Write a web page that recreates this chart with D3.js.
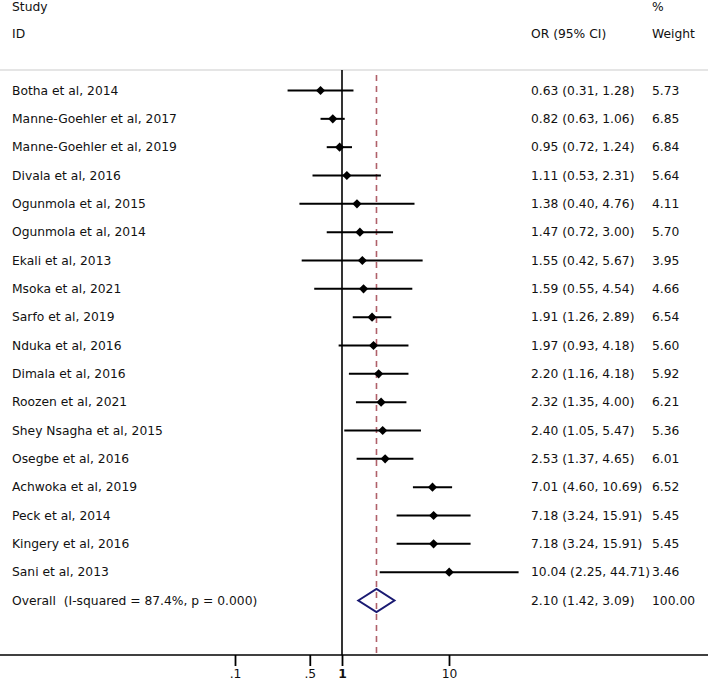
<!DOCTYPE html>
<html>
<head>
<meta charset="utf-8">
<script src="https://cdn.jsdelivr.net/npm/d3@7/dist/d3.min.js"></script>
<style>
  html, body { margin: 0; padding: 0; background: #fff; }
  svg { display: block; }
  text { font-family: "DejaVu Sans", sans-serif; fill: #111; white-space: pre; }
</style>
</head>
<body>
<script>
const studies = [
  "Botha et al, 2014", "Manne-Goehler et al, 2017", "Manne-Goehler et al, 2019",
  "Divala et al, 2016", "Ogunmola et al, 2015", "Ogunmola et al, 2014",
  "Ekali et al, 2013", "Msoka et al, 2021", "Sarfo et al, 2019",
  "Nduka et al, 2016", "Dimala et al, 2016", "Roozen et al, 2021",
  "Shey Nsagha et al, 2015", "Osegbe et al, 2016", "Achwoka et al, 2019",
  "Peck et al, 2014", "Kingery et al, 2016", "Sani et al, 2013"
];
const orValues = [0.63, 0.82, 0.95, 1.11, 1.38, 1.47, 1.55, 1.59, 1.91, 1.97, 2.20, 2.32, 2.40, 2.53, 7.01, 7.18, 7.18, 10.04];
const ciLower  = [0.31, 0.63, 0.72, 0.53, 0.40, 0.72, 0.42, 0.55, 1.26, 0.93, 1.16, 1.35, 1.05, 1.37, 4.60, 3.24, 3.24, 2.25];
const ciUpper  = [1.28, 1.06, 1.24, 2.31, 4.76, 3.00, 5.67, 4.54, 2.89, 4.18, 4.18, 4.00, 5.47, 4.65, 10.69, 15.91, 15.91, 44.71];
const weights  = ["5.73", "6.85", "6.84", "5.64", "4.11", "5.70", "3.95", "4.66", "6.54", "5.60", "5.92", "6.21", "5.36", "6.01", "6.52", "5.45", "5.45", "3.46"];
const overallLabel = "Overall  (I-squared = 87.4%, p = 0.000)";
const overallOR = 2.10, overallLo = 1.42, overallHi = 3.09;
const overallWeight = "100.00";
const tickValues = [0.1, 0.5, 1, 10];
const tickLabels = [".1", ".5", "1", "10"];

const W = 708, H = 681;
const svg = d3.select("body").append("svg").attr("width", W).attr("height", H);

const x = d3.scaleLog().domain([0.1, 10]).range([235, 449]);
const y = d3.scaleLinear().domain([0, 18]).range([90.5, 600.5]);

const fmt = d3.format(".2f");
const fs = "12.3px";
const xLabel = 12, xCI = 531, xW = 652;

// headers
svg.append("text").attr("x", xLabel).attr("y", 7).attr("dy", "0.35em").style("font-size", fs).text("Study");
svg.append("text").attr("x", xLabel).attr("y", 34).attr("dy", "0.35em").style("font-size", fs).text("ID");
svg.append("text").attr("x", xCI).attr("y", 34).attr("dy", "0.35em").style("font-size", fs).text("OR (95% CI)");
svg.append("text").attr("x", xW).attr("y", 7).attr("dy", "0.35em").style("font-size", fs).text("%");
svg.append("text").attr("x", xW).attr("y", 34).attr("dy", "0.35em").style("font-size", fs).text("Weight");

// top rule
svg.append("line").attr("x1", 0).attr("x2", W).attr("y1", 70).attr("y2", 70)
  .attr("stroke", "#cccccc").attr("stroke-width", 1.2);

const axisY = 655;

// null line
svg.append("line").attr("x1", x(1)).attr("x2", x(1)).attr("y1", 70).attr("y2", axisY)
  .attr("stroke", "#000").attr("stroke-width", 1.6);

// overall dashed line
svg.append("line").attr("x1", x(overallOR)).attr("x2", x(overallOR)).attr("y1", 75).attr("y2", axisY)
  .attr("stroke", "#b0606a").attr("stroke-width", 1.6).attr("stroke-dasharray", "6,5");

// rows
const rows = studies.map((s, i) => ({ s, or: orValues[i], lo: ciLower[i], hi: ciUpper[i], w: weights[i], i }));

const g = svg.append("g");
rows.forEach(d => {
  const yy = y(d.i);
  g.append("line").attr("x1", x(d.lo)).attr("x2", x(d.hi)).attr("y1", yy).attr("y2", yy)
    .attr("stroke", "#000").attr("stroke-width", 2);
  const cx = x(d.or), r = 4.6;
  g.append("path").attr("d", `M${cx},${yy - r}L${cx + r},${yy}L${cx},${yy + r}L${cx - r},${yy}Z`)
    .attr("fill", "#000");
  g.append("text").attr("x", xLabel).attr("y", yy).attr("dy", "0.35em").style("font-size", fs).text(d.s);
  g.append("text").attr("x", xCI).attr("y", yy).attr("dy", "0.35em").style("font-size", fs)
    .text(`${fmt(d.or)} (${fmt(d.lo)}, ${fmt(d.hi)})`);
  g.append("text").attr("x", xW).attr("y", yy).attr("dy", "0.35em").style("font-size", fs).text(d.w);
});

// overall
const yo = y(18);
svg.append("path")
  .attr("d", `M${x(overallLo)},${yo}L${x(overallOR)},${yo - 11.5}L${x(overallHi)},${yo}L${x(overallOR)},${yo + 11.5}Z`)
  .attr("fill", "none").attr("stroke", "#1a1a72").attr("stroke-width", 2);
svg.append("text").attr("x", xLabel).attr("y", yo).attr("dy", "0.35em").style("font-size", fs)
  .attr("xml:space", "preserve").text(overallLabel);
svg.append("text").attr("x", xCI).attr("y", yo).attr("dy", "0.35em").style("font-size", fs)
  .text(`${fmt(overallOR)} (${fmt(overallLo)}, ${fmt(overallHi)})`);
svg.append("text").attr("x", xW).attr("y", yo).attr("dy", "0.35em").style("font-size", fs).text(overallWeight);

// axis
svg.append("line").attr("x1", 0).attr("x2", W).attr("y1", axisY).attr("y2", axisY)
  .attr("stroke", "#000").attr("stroke-width", 1.4);
const axis = d3.axisBottom(x).tickValues(tickValues).tickSize(11).tickSizeOuter(0)
  .tickFormat((d, i) => tickLabels[i]);
const ag = svg.append("g").attr("transform", `translate(0,${axisY})`).call(axis);
ag.select(".domain").remove();
ag.selectAll(".tick line").attr("stroke", "#000").attr("stroke-width", 1.8);
ag.selectAll(".tick text").style("font-size", "12.3px").style("font-family", "DejaVu Sans, sans-serif")
  .attr("fill", "#111").attr("y", 14.5)
  .style("font-weight", (d) => d === 1 ? "bold" : "normal");
</script>
</body>
</html>
